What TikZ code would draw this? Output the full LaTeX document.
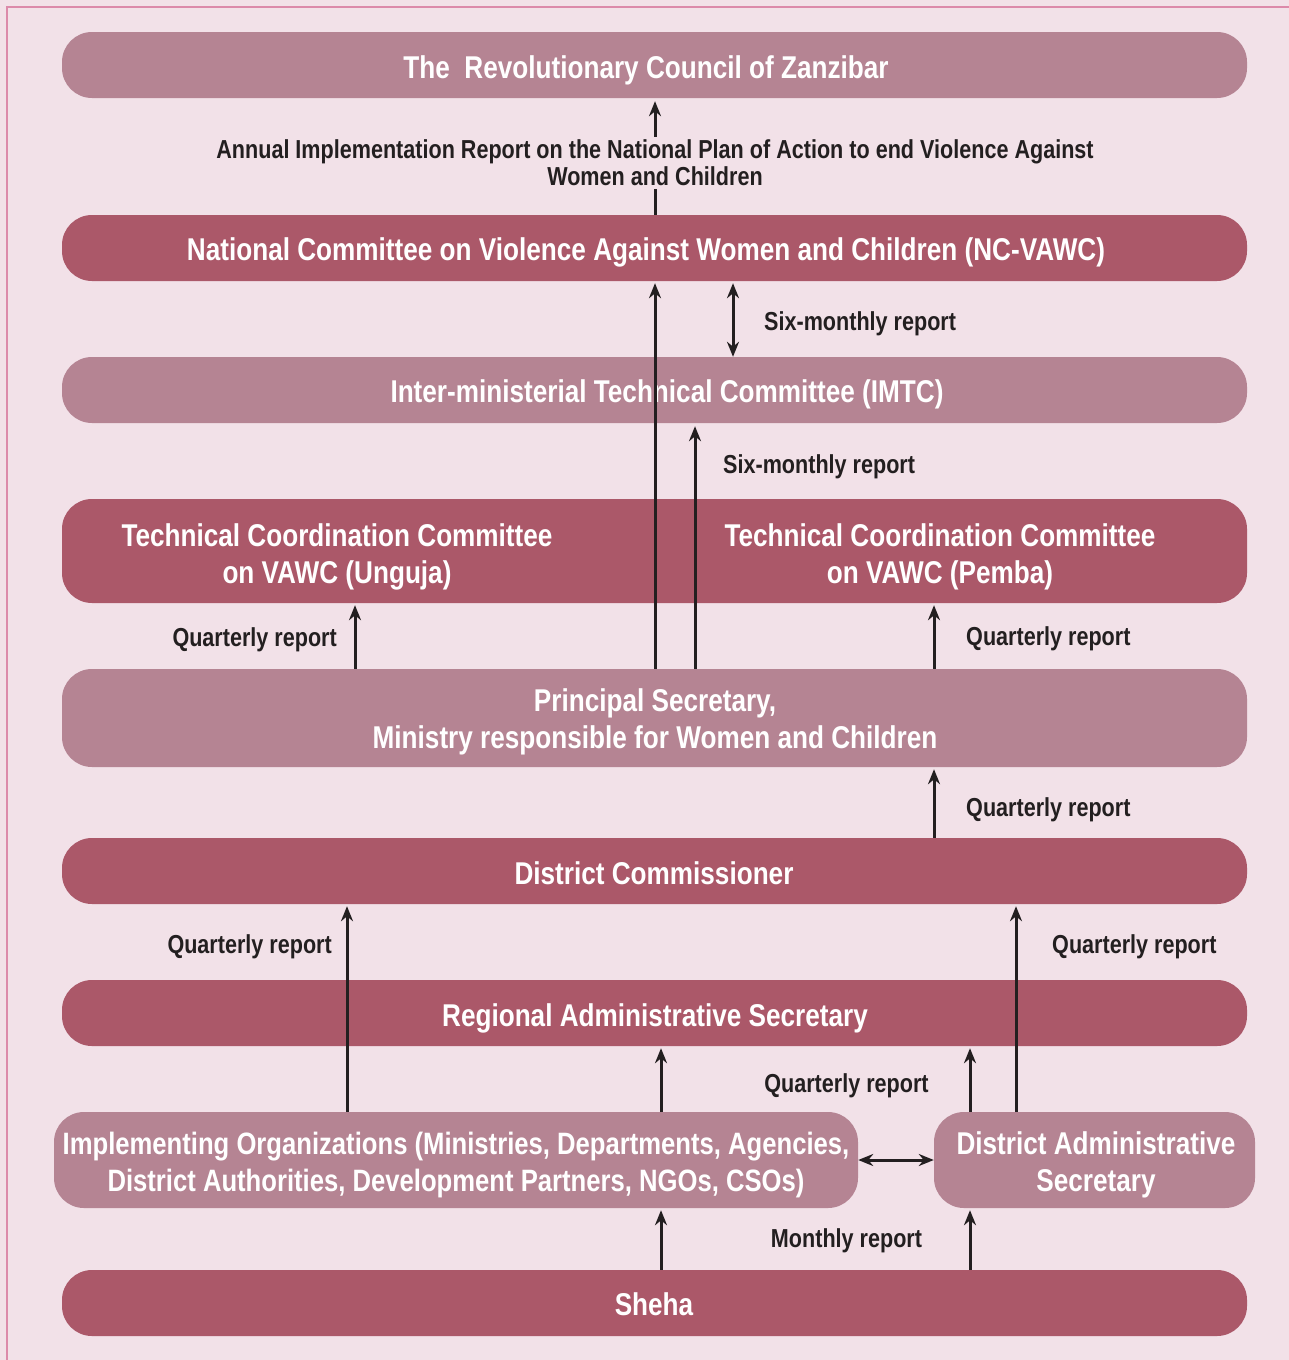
\documentclass[tikz,border=0pt]{standalone}
\usepackage{fontspec}
\setmainfont[FakeStretch=0.83]{Liberation Sans}
\usetikzlibrary{arrows.meta}
\definecolor{bg}{HTML}{F2E1E8}
\definecolor{frame}{HTML}{DC8AAA}
\definecolor{light}{HTML}{B58493}
\definecolor{dark}{HTML}{AB5869}
\definecolor{ink}{HTML}{231F20}
\begin{document}
\begin{tikzpicture}[x=1pt,y=-1pt,
 box/.style={rounded corners=30pt, inner sep=0pt, minimum width=1185pt, minimum height=66pt},
 lbox/.style={box, fill=light},
 dbox/.style={box, fill=dark},
 btext/.style={inner sep=0pt, text=white, font=\fontsize{31.5}{37}\selectfont\bfseries, align=center},
 btext1/.style={btext, text height=23.6pt, text depth=6.9pt},
 arr/.style={draw=ink, line width=3pt, -{Stealth[length=15pt,width=12pt]}},
 darr/.style={draw=ink, line width=3pt, {Stealth[length=15pt,width=12pt]}-{Stealth[length=15pt,width=12pt]}},
 lbltext/.style={text=ink, font=\fontsize{26}{27}\selectfont\bfseries, inner sep=0pt, align=center},
 lbl/.style={lbltext, text height=19.5pt, text depth=5.7pt}]
\useasboundingbox (0,0) rectangle (1289,1360);
\fill[bg] (0,0) rectangle (1289,1360);
\draw[frame, line width=2.5pt] (7,1362) -- (7,7) -- (1291,7);

% boxes
\node[lbox] (rc) at (654.5,65) {};
\node[dbox] (nc) at (654.5,248) {};
\node[lbox] (imtc) at (654.5,390) {};
\node[dbox, minimum height=104pt] (tcc) at (654.5,551) {};
\node[lbox, minimum height=98pt] (ps) at (654.5,718) {};
\node[dbox] (dc) at (654.5,871) {};
\node[dbox] (ras) at (654.5,1013) {};
\node[lbox, minimum width=804pt, minimum height=96pt] (io) at (456,1160) {};
\node[lbox, minimum width=321pt, minimum height=96pt] (das) at (1094.5,1160) {};
\node[dbox] (sh) at (654.5,1303) {};

% box texts
\node[btext1] (rct) at (646,70) {The\ \ Revolutionary Council of Zanzibar};
\node[btext1] (nct) at (646,252) {National Committee on Violence Against Women and Children (NC-VAWC)};
\node[btext1] (imtct) at (667,394) {Inter-ministerial Technical Committee (IMTC)};
\node[btext] (tccu) at (337,556.5) {Technical Coordination Committee\\on VAWC (Unguja)};
\node[btext] (tccp) at (940,556.5) {Technical Coordination Committee\\on VAWC (Pemba)};
\node[btext] (pst) at (655,722) {Principal Secretary,\\Ministry responsible for Women and Children};
\node[btext1] (dct) at (654,876) {District Commissioner};
\node[btext1] (rast) at (655,1018) {Regional Administrative Secretary};
\node[btext, font=\fontsize{30.9}{37}\selectfont\bfseries] (iot) at (456,1165) {Implementing Organizations (Ministries, Departments, Agencies,\\District Authorities, Development Partners, NGOs, CSOs)};
\node[btext] (dast) at (1096,1165) {District Administrative\\Secretary};
\node[btext1] (sht) at (654,1307) {Sheha};

% x positions
\coordinate (x347) at (347,0);
\coordinate (x355) at (355,0);
\coordinate (x655) at (655,0);
\coordinate (x661) at (661,0);
\coordinate (x695) at (695,0);
\coordinate (x733) at (733,0);
\coordinate (x934) at (934,0);
\coordinate (x970) at (970,0);
\coordinate (x1016) at (1016,0);

% connectors
\draw[arr] (nc.north -| x655) -- ([yshift=-3pt]rc.south -| x655);
\node[lbltext, fill=bg, inner ysep=3pt, inner xsep=2pt] (annual) at (655,163) {Annual Implementation Report on the National Plan of Action to end Violence Against\\Women and Children};
\draw[darr] ([yshift=-2pt]nc.south -| x733) -- (imtc.north -| x733);
\draw[arr] (ps.north -| x655) -- ([yshift=-2pt]nc.south -| x655);
\draw[arr] (ps.north -| x695) -- ([yshift=-3pt]imtc.south -| x695);
\draw[arr] (ps.north -| x355) -- ([yshift=-2pt]tcc.south -| x355);
\draw[arr] (ps.north -| x934) -- ([yshift=-2pt]tcc.south -| x934);
\draw[arr] (dc.north -| x934) -- ([yshift=-2pt]ps.south -| x934);
\draw[arr] (io.north -| x347) -- ([yshift=-2pt]dc.south -| x347);
\draw[arr] (das.north -| x1016) -- ([yshift=-2pt]dc.south -| x1016);
\draw[arr] (io.north -| x661) -- ([yshift=-2pt]ras.south -| x661);
\draw[arr] (das.north -| x970) -- ([yshift=-2pt]ras.south -| x970);
\draw[darr] (io.east) -- (das.west);
\draw[arr] (sh.north -| x661) -- ([yshift=-2pt]io.south -| x661);
\draw[arr] (sh.north -| x970) -- ([yshift=-2pt]das.south -| x970);

% labels
\node[lbl, anchor=west] (l1) at (764,324) {Six-monthly report};
\node[lbl, anchor=west] (l2) at (723,467) {Six-monthly report};
\node[lbl, anchor=east] (l3) at (337,640) {Quarterly report};
\node[lbl, anchor=west] (l4) at (966,639) {Quarterly report};
\node[lbl, anchor=west] (l5) at (966,810) {Quarterly report};
\node[lbl, anchor=east] (l6) at (332,947) {Quarterly report};
\node[lbl, anchor=west] (l7) at (1052,947) {Quarterly report};
\node[lbl] (l8) at (846.5,1086) {Quarterly report};
\node[lbl] (l9) at (846.5,1241) {Monthly report};
\end{tikzpicture}
\end{document}
